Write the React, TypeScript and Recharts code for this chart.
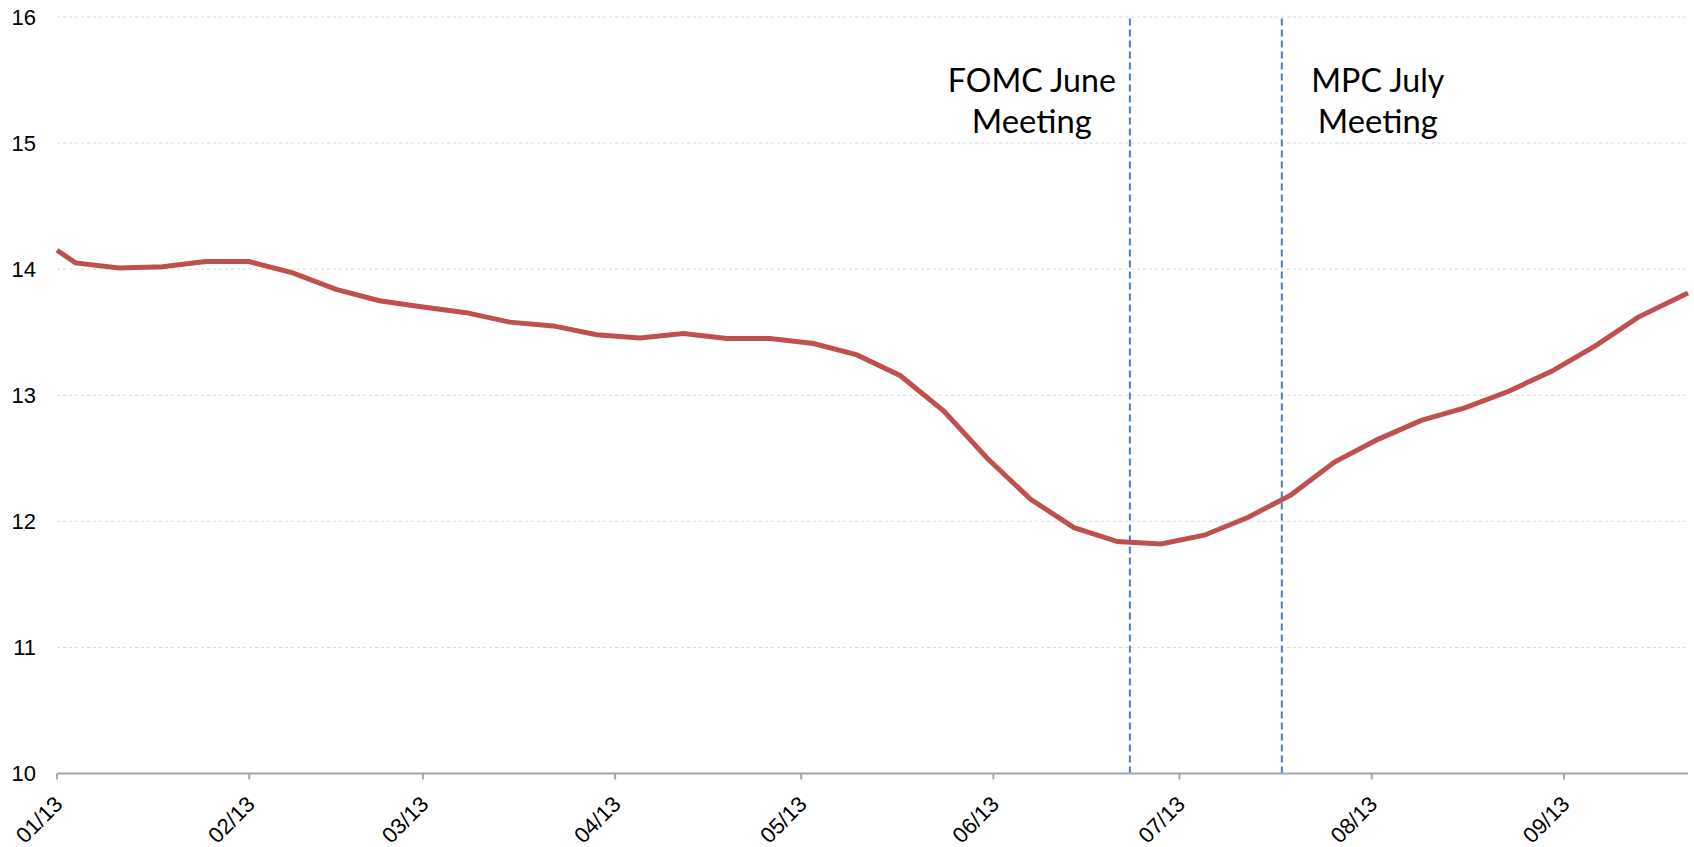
import React from "react";
import {
  LineChart,
  Line,
  XAxis,
  YAxis,
  CartesianGrid,
  ReferenceLine,
} from "recharts";

// days since 01 Jan 2013 (weekly, Fridays)
const days = [
  0, 3, 10, 17, 24, 31, 38, 45, 52, 59, 66, 73, 80, 87, 94, 101, 108, 115, 122,
  129, 136, 143, 150, 157, 164, 171, 178, 185, 192, 199, 206, 213, 220, 227, 234,
  241, 248, 255, 263,
];
const values = [
  14.15, 14.05, 14.01, 14.02, 14.06, 14.06, 13.97, 13.84, 13.75, 13.7, 13.655,
  13.58, 13.55, 13.48, 13.455, 13.49, 13.45, 13.45, 13.41, 13.32, 13.155, 12.875,
  12.5, 12.175, 11.95, 11.84, 11.82, 11.89, 12.03, 12.21, 12.47, 12.65, 12.8,
  12.9, 13.03, 13.19, 13.39, 13.62, 13.81,
];

const monthTicks = [0, 31, 59, 90, 120, 151, 181, 212, 243];
const monthLabels = ["01/13", "02/13", "03/13", "04/13", "05/13", "06/13", "07/13", "08/13", "09/13"];
const yTicks = [10, 11, 12, 13, 14, 15, 16];

const fomcDay = 173;
const mpcDay = 197.5;

const data = days.map((d, i) => ({ day: d, value: values[i] }));

const axisFont = "'Liberation Sans', Arial, sans-serif";
const noteFont = "Lato, 'Open Sans', sans-serif";

function DateTick(props: any) {
  const { x, y, payload } = props;
  const idx = monthTicks.indexOf(payload.value);
  return (
    <text
      x={0}
      y={0}
      transform={`translate(${x + 7},${y + 26}) rotate(-45)`}
      textAnchor="end"
      fontSize={22}
      fontFamily={axisFont}
      fill="#000"
    >
      {idx >= 0 ? monthLabels[idx] : ""}
    </text>
  );
}

function MeetingLabel(props: any) {
  const { viewBox, lines, widths, dx } = props;
  if (!viewBox) return null;
  const cx = viewBox.x + dx;
  return (
    <g>
      {lines.map((t: string, i: number) => (
        <text
          key={t}
          x={cx}
          y={viewBox.y + 75 + i * 41}
          textAnchor="middle"
          fontSize={32}
          fontFamily={noteFont}
          fill="#000"
          textLength={widths[i]}
          lengthAdjust="spacingAndGlyphs"
        >
          {t}
        </text>
      ))}
    </g>
  );
}

export default function App() {
  return (
    <div style={{ position: "absolute", left: 0, top: 0, background: "#fff" }}>
      <LineChart
        width={1694}
        height={847}
        data={data}
        margin={{ top: 17, right: 6, left: 0, bottom: 0 }}
      >
        <CartesianGrid vertical={false} stroke="#d9d9d9" strokeDasharray="3 3" />
        <XAxis
          dataKey="day"
          type="number"
          domain={[0, 263]}
          ticks={monthTicks}
          interval={0}
          height={73.5}
          tickSize={6}
          tickMargin={0}
          tick={<DateTick />}
          axisLine={{ stroke: "#a6a6a6", strokeWidth: 2 }}
          tickLine={{ stroke: "#a6a6a6", strokeWidth: 2 }}
        />
        <YAxis
          domain={[10, 16]}
          ticks={yTicks}
          width={57}
          axisLine={false}
          tickLine={false}
          tickMargin={15}
          tick={{ fontSize: 22, fontFamily: axisFont, fill: "#000" }}
        />
        <ReferenceLine
          x={fomcDay}
          stroke="#4a7ebb"
          strokeWidth={2}
          strokeDasharray="7 4"
          label={<MeetingLabel lines={["FOMC June", "Meeting"]} widths={[168, 120]} dx={-98} />}
        />
        <ReferenceLine
          x={mpcDay}
          stroke="#4a7ebb"
          strokeWidth={2}
          strokeDasharray="7 4"
          label={<MeetingLabel lines={["MPC July", "Meeting"]} widths={[133, 120]} dx={96} />}
        />
        <Line
          type="linear"
          dataKey="value"
          stroke="#c0504d"
          strokeWidth={5}
          dot={false}
          isAnimationActive={false}
        />
      </LineChart>
    </div>
  );
}
